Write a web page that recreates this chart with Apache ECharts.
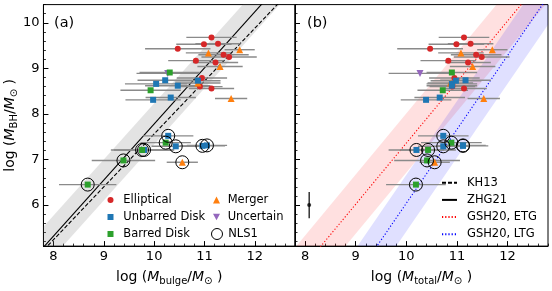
<!DOCTYPE html>
<html><head><meta charset="utf-8">
<script src="https://cdn.jsdelivr.net/npm/echarts@6/dist/echarts.min.js"></script>
<style>html,body{margin:0;padding:0;background:#fff}#c{width:552px;height:291px}</style>
</head><body><div id="c"></div>
<script>
// ---------------- DATA ----------------
const xTicks = [8, 9, 10, 11, 12];
const yTicks = [6, 7, 8, 9, 10];
const xRange = [7.8, 12.8];
const yRange = [5.1, 10.4];

// Elliptical
const ellBulge = [11.14, 10.99, 11.27, 10.47, 11.38, 11.49, 10.83, 11.22, 10.95, 10.91, 11.14];
const ellTotal = [11.14, 10.99, 11.27, 10.47, 11.38, 11.49, 10.83, 11.22, 10.95, 10.91, 11.14];
const ellBH    = [9.68, 9.53, 9.54, 9.43, 9.30, 9.25, 9.17, 9.13, 8.79, 8.60, 8.56];
const ellErrB  = [0.50, 0.55, 0.45, 0.65, 0.50, 0.55, 0.55, 0.45, 0.50, 0.45, 0.45];
const ellErrT  = [0.50, 0.55, 0.45, 0.65, 0.50, 0.55, 0.55, 0.45, 0.50, 0.45, 0.45];
const ellNLS1  = [0, 0, 0, 0, 0, 0, 0, 0, 0, 0, 0];

// Merger
const merBulge = [11.08, 11.70, 11.31, 10.87, 11.53, 10.56];
const merTotal = [11.08, 11.70, 11.31, 10.87, 11.53, 10.56];
const merBH    = [9.34, 9.41, 9.04, 8.68, 8.34, 6.94];
const merErrB  = [0.45, 0.30, 0.45, 0.45, 0.32, 0.31];
const merErrT  = [0.45, 0.30, 0.45, 0.45, 0.32, 0.30];
const merNLS1  = [0, 0, 0, 0, 0, 1];

// Uncertain
const uncBulge = [10.27];
const uncTotal = [10.27];
const uncBH    = [8.89];
const uncErrB  = [0.62];
const uncErrT  = [0.62];
const uncNLS1  = [0];

// Unbarred disk
const ubdBulge = [10.22, 10.87, 10.04, 10.47, 10.33, 9.98, 10.28, 10.43, 10.96, 11.05, 9.80];
const ubdTotal = [11.17, 10.98, 10.90, 10.90, 10.66, 10.39, 10.73, 10.73, 11.12, 11.12, 10.20];
const ubdBH    = [8.74, 8.73, 8.66, 8.62, 8.36, 8.31, 7.52, 7.29, 7.30, 7.31, 7.21];
const ubdErrB  = [0.55, 0.45, 0.62, 0.65, 0.50, 0.55, 0.50, 0.48, 0.45, 0.40, 0.60];
const ubdErrT  = [0.50, 0.50, 0.50, 0.50, 0.50, 0.50, 0.50, 0.50, 0.50, 0.45, 0.55];
const ubdNLS1  = [0, 0, 0, 0, 0, 0, 1, 1, 1, 1, 1];

// Barred disk
const bdBulge = [10.31, 9.93, 10.23, 9.76, 9.39, 8.68];
const bdTotal = [10.90, 10.72, 10.89, 10.43, 10.41, 10.19];
const bdBH    = [8.91, 8.52, 7.37, 7.21, 6.98, 6.45];
const bdErrB  = [0.60, 0.60, 0.50, 0.62, 0.63, 0.57];
const bdErrT  = [0.50, 0.50, 0.60, 0.55, 0.65, 0.59];
const bdNLS1  = [0, 0, 1, 1, 1, 1];

// Scaling relations: log M_BH = at11 + slope*(x-11), shaded +/- scatter
const relNames   = ['KH13', 'ZHG21', 'GSH20, ETG', 'GSH20, LTG'];
const relSlope   = [1.16, 1.23, 1.34, 1.62];
const relAt11    = [8.72, 9.01, 8.70, 7.66];
const relScatter = [0, 0.45, 0.65, 0.62];
const relPanel   = [0, 0, 1, 1];

// Typical uncertainty (panel b)
const repX = [8.08], repY = [6.0], repYErr = [0.29];

// ---------------- STYLE ----------------
const FONT = 'DejaVu Sans';
const C = {ell:'#d62728', ubd:'#1f77b4', bd:'#2ca02c', mer:'#ff7f0e', unc:'#9467bd'};
const downTri = 'path://M0,0 L10,0 L5,9 Z';

const xMinor = [], yMinor = [];
for (let v = 7.8; v <= 12.80001; v += 0.2) xMinor.push(+v.toFixed(1));
for (let v = 5.2; v <= 10.40001; v += 0.2) yMinor.push(+v.toFixed(1));

const chart = echarts.init(document.getElementById('c'));

function clipPoly(poly, x0, y0, x1, y1) {
  const inside = [p=>p[0]>=x0, p=>p[0]<=x1, p=>p[1]>=y0, p=>p[1]<=y1];
  const inter = [
    (a,b)=>{const t=(x0-a[0])/(b[0]-a[0]); return [x0, a[1]+t*(b[1]-a[1])];},
    (a,b)=>{const t=(x1-a[0])/(b[0]-a[0]); return [x1, a[1]+t*(b[1]-a[1])];},
    (a,b)=>{const t=(y0-a[1])/(b[1]-a[1]); return [a[0]+t*(b[0]-a[0]), y0];},
    (a,b)=>{const t=(y1-a[1])/(b[1]-a[1]); return [a[0]+t*(b[0]-a[0]), y1];}
  ];
  let out = poly;
  for (let k = 0; k < 4; k++) {
    const inp = out; out = [];
    for (let i = 0; i < inp.length; i++) {
      const cur = inp[i], prev = inp[(i + inp.length - 1) % inp.length];
      const ci = inside[k](cur), pi = inside[k](prev);
      if (ci) { if (!pi) out.push(inter[k](prev, cur)); out.push(cur); }
      else if (pi) out.push(inter[k](prev, cur));
    }
    if (!out.length) break;
  }
  return out;
}
const relF = (i, x) => relAt11[i] + relSlope[i] * (x - 11);

const nameRich = {
  i: {fontFamily: FONT, fontStyle: 'italic', fontSize: 14, lineHeight: 18, color: '#000'},
  s: {fontFamily: FONT, fontSize: 10, lineHeight: 10, verticalAlign: 'bottom', color: '#000'}
};

function xAxisMain(gi, name) {
  return {type:'value', gridIndex:gi, min:xRange[0], max:xRange[1], position:'bottom',
    axisLine:{show:true, onZero:false, lineStyle:{color:'#000', width:1}},
    axisTick:{show:true, inside:true, length:5, customValues:xTicks, lineStyle:{color:'#000', width:1}},
    axisLabel:{show:true, customValues:xTicks, fontFamily:FONT, fontSize:13, color:'#000', margin:4},
    splitLine:{show:false},
    name:name, nameLocation:'middle', nameGap:17,
    nameTextStyle:{fontFamily:FONT, fontSize:14, lineHeight:18, color:'#000', rich:nameRich}};
}
function xAxisMinor(gi) {
  return {type:'value', gridIndex:gi, min:xRange[0], max:xRange[1], position:'bottom',
    axisLine:{show:false, onZero:false},
    axisTick:{show:true, inside:true, length:2.5, customValues:xMinor, lineStyle:{color:'#000', width:0.8}},
    axisLabel:{show:false}, splitLine:{show:false}};
}
function yAxisMain(gi, showLabel, name) {
  const a = {type:'value', gridIndex:gi, min:yRange[0], max:yRange[1], position:'left',
    axisLine:{show:true, onZero:false, lineStyle:{color:'#000', width:1}},
    axisTick:{show:true, inside:true, length:5, customValues:yTicks, lineStyle:{color:'#000', width:1}},
    axisLabel:{show:showLabel, customValues:yTicks, fontFamily:FONT, fontSize:13, color:'#000', margin:4},
    splitLine:{show:false}};
  if (name) Object.assign(a, {name:name, nameLocation:'middle', nameGap:22, nameRotate:90,
    nameTextStyle:{fontFamily:FONT, fontSize:14, lineHeight:18, color:'#000', rich:nameRich}});
  return a;
}
function yAxisMinor(gi) {
  return {type:'value', gridIndex:gi, min:yRange[0], max:yRange[1], position:'left',
    axisLine:{show:false, onZero:false},
    axisTick:{show:true, inside:true, length:2.5, customValues:yMinor, lineStyle:{color:'#000', width:0.8}},
    axisLabel:{show:false}, splitLine:{show:false}};
}

const series = [];
// Bands
relNames.forEach((nm, i) => {
  if (!relScatter[i]) return;
  const col = i === 1 ? 'rgba(128,128,128,0.22)' : (i === 2 ? 'rgba(255,0,0,0.12)' : 'rgba(0,0,255,0.12)');
  series.push({type:'custom', name: nm + ' band', xAxisIndex:relPanel[i], yAxisIndex:relPanel[i], z:1, silent:true,
    data:[[i]],
    renderItem:(params, api) => {
      const k = api.value(0);
      const xs = [6, 15];
      const poly = [[xs[0], relF(k, xs[0]) - relScatter[k]], [xs[1], relF(k, xs[1]) - relScatter[k]],
                    [xs[1], relF(k, xs[1]) + relScatter[k]], [xs[0], relF(k, xs[0]) + relScatter[k]]].map(p => api.coord(p));
      const cs = params.coordSys;
      const pts = clipPoly(poly, cs.x, cs.y, cs.x + cs.width, cs.y + cs.height);
      return {type:'polygon', shape:{points:pts}, style:{fill:col, stroke:null}};
    }});
});
// Lines
const relStyle = [
  {color:'#000', width:1.1, type:[4, 2]},
  {color:'#000', width:1.1, type:'solid'},
  {color:'#ff0000', width:1.1, type:[1.2, 2]},
  {color:'#0000ff', width:1.1, type:[1.2, 2]}
];
relNames.forEach((nm, i) => {
  series.push({type:'line', name:nm, xAxisIndex:relPanel[i], yAxisIndex:relPanel[i], z:2,
    showSymbol:false, symbol:'none', clip:true, silent:true,
    lineStyle:relStyle[i], itemStyle:{color:relStyle[i].color},
    data:[[6, relF(i, 6)], [15, relF(i, 15)]]});
});

const groups = [
  {name:'Elliptical',    b:ellBulge, t:ellTotal, y:ellBH, eb:ellErrB, et:ellErrT, n:ellNLS1, color:C.ell, symbol:'circle', size:6},
  {name:'Merger',        b:merBulge, t:merTotal, y:merBH, eb:merErrB, et:merErrT, n:merNLS1, color:C.mer, symbol:'triangle', size:7},
  {name:'Uncertain',     b:uncBulge, t:uncTotal, y:uncBH, eb:uncErrB, et:uncErrT, n:uncNLS1, color:C.unc, symbol:downTri, size:7},
  {name:'Unbarred Disk', b:ubdBulge, t:ubdTotal, y:ubdBH, eb:ubdErrB, et:ubdErrT, n:ubdNLS1, color:C.ubd, symbol:'rect', size:6},
  {name:'Barred Disk',   b:bdBulge,  t:bdTotal,  y:bdBH,  eb:bdErrB,  et:bdErrT,  n:bdNLS1,  color:C.bd,  symbol:'rect', size:6}
];

function errSeries(panel, data) {
  return {type:'custom', xAxisIndex:panel, yAxisIndex:panel, z:3, silent:true, data:data,
    renderItem:(params, api) => {
      const x = api.value(0), y = api.value(1), e = api.value(2);
      const p1 = api.coord([x - e, y]), p2 = api.coord([x + e, y]);
      return {type:'line', shape:{x1:p1[0], y1:p1[1], x2:p2[0], y2:p2[1]},
        style:{stroke:'#8a8a8a', lineWidth:1.4}};
    }};
}
[0, 1].forEach(panel => {
  const ed = [];
  groups.forEach(g => {
    const xs = panel === 0 ? g.b : g.t, es = panel === 0 ? g.eb : g.et;
    xs.forEach((x, i) => ed.push([x, g.y[i], es[i]]));
  });
  series.push(errSeries(panel, ed));
  groups.forEach(g => {
    const xs = panel === 0 ? g.b : g.t;
    series.push({type:'scatter', name:g.name, xAxisIndex:panel, yAxisIndex:panel, z:4,
      symbol:g.symbol, symbolSize:g.size, itemStyle:{color:g.color, opacity:1},
      data:xs.map((x, i) => [x, g.y[i]])});
  });
  const nd = [];
  groups.forEach(g => {
    const xs = panel === 0 ? g.b : g.t;
    xs.forEach((x, i) => { if (g.n[i]) nd.push([x, g.y[i]]); });
  });
  series.push({type:'scatter', name:'NLS1', xAxisIndex:panel, yAxisIndex:panel, z:5,
    symbol:'circle', symbolSize:13,
    itemStyle:{color:'rgba(0,0,0,0)', borderColor:'#000', borderWidth:1, opacity:1}, data:nd});
});
// Typical error bar
series.push({type:'custom', xAxisIndex:1, yAxisIndex:1, z:3, silent:true,
  data:repX.map((x, i) => [x, repY[i], repYErr[i]]),
  renderItem:(params, api) => {
    const x = api.value(0), y = api.value(1), e = api.value(2);
    const p1 = api.coord([x, y - e]), p2 = api.coord([x, y + e]);
    return {type:'line', shape:{x1:p1[0], y1:p1[1], x2:p2[0], y2:p2[1]}, style:{stroke:'#000', lineWidth:1.2}};
  }});
series.push({type:'scatter', xAxisIndex:1, yAxisIndex:1, z:4, symbol:'circle', symbolSize:4,
  itemStyle:{color:'#000'}, data:repX.map((x, i) => [x, repY[i]])});

// single-item legend: icon centred at cx, text starting at tx, row centre cy
function oneLegend(name, cx, tx, cy, s, icon, itemStyle) {
  const left = cx - s / 2;
  const pad = tx - (left + s + 5);
  return {data:[{name:name, icon:icon, itemStyle:itemStyle}], left:left, top:cy - 7, padding:0,
    itemWidth:s, itemHeight:s, selectedMode:false,
    textStyle:{fontFamily:FONT, fontSize:11.5, color:'#000', lineHeight:14, padding:[0, 0, 0, pad]}};
}

const option = {
  animation:false,
  backgroundColor:'#fff',
  title:[
    {text:'(a)', left:54, top:16, padding:0, textStyle:{fontFamily:FONT, fontSize:14.5, fontWeight:'normal', color:'#000'}},
    {text:'(b)', left:307, top:16, padding:0, textStyle:{fontFamily:FONT, fontSize:14.5, fontWeight:'normal', color:'#000'}}
  ],
  grid:[
    {left:41, right:257, top:4.6, bottom:39, show:true, borderColor:'#000', borderWidth:1, backgroundColor:'transparent'},
    {left:295, right:4, top:4.6, bottom:39, show:true, borderColor:'#000', borderWidth:1, backgroundColor:'transparent'}
  ],
  xAxis:[
    xAxisMain(0, 'log ({i|M}{s|bulge}/{i|M}{s|⊙} )'),
    xAxisMain(1, 'log ({i|M}{s|total}/{i|M}{s|⊙} )'),
    xAxisMinor(0), xAxisMinor(1)
  ],
  yAxis:[
    yAxisMain(0, true, 'log ({i|M}{s|BH}/{i|M}{s|⊙} )'),
    yAxisMain(1, false, null),
    yAxisMinor(0), yAxisMinor(1)
  ],
  legend:[
    oneLegend('Elliptical',    110.5, 123.3, 200, 6, 'circle', {color:C.ell}),
    oneLegend('Unbarred Disk', 110.5, 123.3, 217, 6, 'rect', {color:C.ubd}),
    oneLegend('Barred Disk',   110.5, 123.3, 234, 6, 'rect', {color:C.bd}),
    oneLegend('Merger',        216.5, 227.7, 200, 7, 'triangle', {color:C.mer}),
    oneLegend('Uncertain',     216.5, 227.7, 217, 7, downTri, {color:C.unc}),
    oneLegend('NLS1',          216.5, 227.7, 234, 11, 'circle', {color:'rgba(0,0,0,0)', borderColor:'#000', borderWidth:1}),
    {data:relNames, orient:'vertical', left:441, top:175.7, padding:0, itemWidth:15, itemHeight:8, itemGap:3.2,
     itemStyle:{color:'rgba(0,0,0,0)', borderWidth:0, opacity:0},
     textStyle:{fontFamily:FONT, fontSize:11.5, color:'#000', lineHeight:14, padding:[0,0,0,5]}, selectedMode:false}
  ],
  series:series
};
chart.setOption(option);
</script></body></html>
